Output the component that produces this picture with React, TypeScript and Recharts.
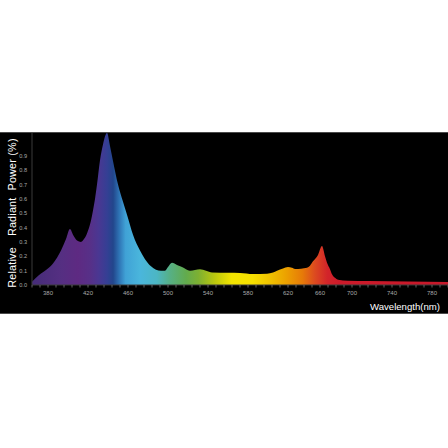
import { AreaChart, Area, XAxis, YAxis, Label } from "recharts";

// spectrum: wavelength (nm) and relative radiant power
const wavelengths = [
  364, 368, 373, 379, 385, 389, 393, 398, 402, 405, 409, 413, 416, 419, 423, 425, 427, 429, 432, 435,
  439, 442, 445, 450, 455, 459, 465, 472, 477, 483, 488, 493, 497, 500, 504, 509, 514, 522, 532, 538,
  544, 560, 572, 585, 599, 605, 609, 615, 620, 624, 627, 633, 639, 642, 645, 650, 654, 657, 659, 662,
  664, 667, 670, 680, 700, 740, 780,
];
const power = [
  0.023, 0.05, 0.08, 0.11, 0.15, 0.19, 0.24, 0.32, 0.39, 0.35, 0.31, 0.3, 0.32, 0.36, 0.45, 0.52, 0.6, 0.7, 0.87, 0.98,
  1.06, 0.97, 0.865, 0.7, 0.58, 0.49, 0.35, 0.24, 0.18, 0.13, 0.107, 0.1, 0.1, 0.125, 0.155, 0.14, 0.125, 0.1, 0.11, 0.1,
  0.088, 0.086, 0.084, 0.077, 0.079, 0.088, 0.1, 0.115, 0.125, 0.12, 0.112, 0.114, 0.12, 0.135, 0.165, 0.21, 0.272, 0.2, 0.155, 0.11,
  0.075, 0.05, 0.037, 0.03, 0.028, 0.025, 0.021,
];

const yTicks = [0, 0.1, 0.2, 0.3, 0.4, 0.5, 0.6, 0.7, 0.8, 0.9];

// minor ticks every 8 units; labels sit where the original image puts them
const xTicks = Array.from({ length: 53 }, (_, i) => 364 + i * 8);
const xLabelAt: Record<number, string> = {
  380: "380", 420: "420", 460: "460", 500: "500", 540: "540", 580: "580", 620: "620",
  652: "660", 684: "700", 724: "740", 764: "780",
};

const spectrumStops: Array<[number, string]> = [
  [0, "#452c78"],
  [0.07, "#552f82"],
  [0.11, "#5e2a82"],
  [0.14, "#573088"],
  [0.16, "#4a3792"],
  [0.18, "#353f94"],
  [0.195, "#22468c"],
  [0.21, "#2f75b6"],
  [0.225, "#40a2d6"],
  [0.26, "#4ab6dc"],
  [0.3, "#4cb6c4"],
  [0.33, "#56b088"],
  [0.37, "#62ab4e"],
  [0.4, "#7db032"],
  [0.44, "#bcc80e"],
  [0.48, "#f2e400"],
  [0.53, "#f6e000"],
  [0.57, "#f0c400"],
  [0.61, "#eca200"],
  [0.65, "#e67a08"],
  [0.68, "#dc4a20"],
  [0.71, "#d2242a"],
  [0.74, "#cc1a2a"],
  [1, "#c8182a"],
];

const data = wavelengths.map((nm, i) => ({ nm, power: power[i] }));

const XTick = (props: any) => {
  const { x, y, payload } = props;
  const label = xLabelAt[payload.value];
  return (
    <g>
      <line x1={x} x2={x} y1={y} y2={y + 2.5} stroke="#7a7a7a" strokeWidth={0.8} />
      {label && (
        <text x={x} y={y + 10} textAnchor="middle" fontSize={6} fill="#a8a8a8" fontFamily="Liberation Sans, Arial, sans-serif">
          {label}
        </text>
      )}
    </g>
  );
};

const YTitle = (props: any) => {
  const { viewBox } = props;
  const cx = 12;
  const cy = viewBox.y + 80;
  return (
    <text
      x={cx}
      y={cy}
      transform={`rotate(-90 ${cx} ${cy})`}
      textAnchor="middle"
      dominantBaseline="central"
      fontSize={10.8}
      fill="#ffffff"
      fontFamily="Liberation Sans, Arial, sans-serif"
      letterSpacing={0.2}
    >
      <tspan>Relative</tspan>
      <tspan dx={11}>Radiant</tspan>
      <tspan dx={7}>Power (%)</tspan>
    </text>
  );
};

const XTitle = (props: any) => {
  const { viewBox } = props;
  return (
    <text
      x={viewBox.x + viewBox.width - 8}
      y={viewBox.y + 24.5}
      textAnchor="end"
      fontSize={9.6}
      fill="#ffffff"
      fontFamily="Liberation Sans, Arial, sans-serif"
    >
      Wavelength(nm)
    </text>
  );
};

export default function App() {
  return (
    <div style={{ position: "absolute", left: 0, top: 0, width: 448, height: 448, background: "#fff" }}>
      <div
        style={{
          position: "absolute",
          left: 0,
          top: 132,
          width: 448,
          height: 180,
          background: "#000",
          borderTop: "1px solid #4a4a4a",
          borderBottom: "1px solid #4a4a4a",
        }}
      >
        <AreaChart width={448} height={180} data={data} margin={{ top: 0, right: 0, bottom: 0, left: 0 }}>
          <defs>
            <linearGradient id="spectrum" x1="0" y1="0" x2="1" y2="0">
              {spectrumStops.map(([o, c]) => (
                <stop key={o} offset={o} stopColor={c} />
              ))}
            </linearGradient>
          </defs>
          <XAxis
            dataKey="nm"
            type="number"
            domain={[364, 780]}
            ticks={xTicks}
            interval={0}
            height={28}
            tickLine={false}
            tickSize={0}
            tickMargin={0}
            axisLine={{ stroke: "#3a3a3a" }}
            tick={<XTick />}
            allowDataOverflow
          >
            <Label content={<XTitle />} />
          </XAxis>
          <YAxis
            type="number"
            domain={[0, 1.06]}
            ticks={yTicks}
            width={32}
            tickLine={false}
            tickSize={0}
            tickMargin={5}
            axisLine={{ stroke: "#3a3a3a" }}
            tick={{ fontSize: 5.6, fill: "#a8a8a8", fontFamily: "Liberation Sans, Arial, sans-serif" }}
            tickFormatter={(v: number) => v.toFixed(1)}
            allowDataOverflow
          >
            <Label content={<YTitle />} />
          </YAxis>
          <Area
            type="monotone"
            dataKey="power"
            stroke="none"
            fill="url(#spectrum)"
            fillOpacity={1}
            isAnimationActive={false}
          />
        </AreaChart>
      </div>
    </div>
  );
}
